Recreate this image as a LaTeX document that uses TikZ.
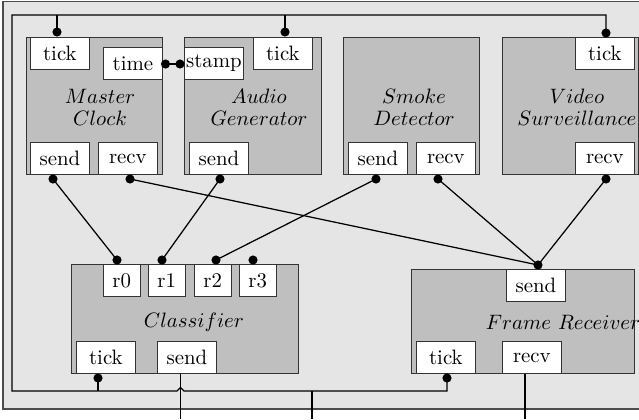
\documentclass[tikz,border=0pt]{standalone}
\usepackage{tikz}
\usetikzlibrary{calc}

\begin{document}
\begin{tikzpicture}[x=0.48pt, y=-0.48pt,
    block/.style={draw=black!80, fill=gray!50, inner sep=0pt, anchor=north west},
    port/.style={draw=black!80, fill=white, inner sep=0pt, minimum width=28.3pt, minimum height=15.4pt, anchor=north west},
    rport/.style={port, minimum width=17.6pt},
    lbl/.style={align=center, inner sep=0pt},
    dot/.style={circle, fill=black, inner sep=0pt, minimum size=4.4pt},
    wire/.style={line width=0.6pt},
]
\useasboundingbox (0,0) rectangle (639,419);
\clip (0,0) rectangle (639,419);

% --- Outer frame ---
\draw[draw=black!70, line width=0.7pt, fill=gray!20] (3,1.5) rectangle (660,409);

% --- Top row blocks ---
\node[block, minimum width=65.3pt, minimum height=65.8pt] (mc) at (26,37) {};
\node[block, minimum width=65.8pt, minimum height=65.8pt] (ag) at (184,37) {};
\node[block, minimum width=65.3pt, minimum height=65.8pt] (sd) at (343,37) {};
\node[block, minimum width=65.3pt, minimum height=65.8pt] (vs) at (502,37) {};

% --- Bottom row blocks ---
\node[block, minimum width=109pt, minimum height=52.3pt] (cl) at (71,264) {};
\node[block, minimum width=107pt, minimum height=49.9pt] (fr) at (411,269) {};

% Block labels
\node[lbl] (mc-lbl) at (100,107) {$Master$\\[-1.5pt]$Clock$};
\node[lbl] (ag-lbl) at (259,107) {$Audio$\\[-1.5pt]$Generator$};
\node[lbl] (sd-lbl) at (414,107) {$Smoke$\\[-1.5pt]$Detector$};
\node[lbl] (vs-lbl) at (577,107) {$Video$\\[-1.5pt]$Surveillance$};
\node[lbl] (cl-lbl) at (194,322) {$Classifier$};
\node[lbl] (fr-lbl) at (563,322) {$Frame\ Receiver$};

% --- Ports ---
\node[port] (mc-tick) at (30,37) {tick};
\node[port] (mc-time) at (103,47) {time};
\node[port] (mc-send) at (30,142) {send};
\node[port] (mc-recv) at (98,142) {recv};

\node[port] (ag-stamp) at (184,47) {stamp};
\node[port] (ag-tick) at (253,37) {tick};
\node[port] (ag-send) at (189,142) {send};

\node[port] (sd-send) at (348,142) {send};
\node[port] (sd-recv) at (416,142) {recv};

\node[port] (vs-tick) at (575,37) {tick};
\node[port] (vs-recv) at (575,142) {recv};

\node[rport] (cl-r0) at (103,264) {r0};
\node[rport] (cl-r1) at (148,264) {r1};
\node[rport] (cl-r2) at (194,264) {r2};
\node[rport] (cl-r3) at (239,264) {r3};
\node[port] (cl-tick) at (76,341) {tick};
\node[port] (cl-send) at (157,341) {send};

\node[port] (fr-send) at (506,269) {send};
\node[port] (fr-tick) at (416,341) {tick};
\node[port] (fr-recv) at (502,341) {recv};

% --- Port dots ---
\node[dot] (mc-tick-d) at (57,32) {};
\node[dot] (ag-tick-d) at (285,32) {};
\node[dot] (vs-tick-d) at (606,33) {};
\node[dot] (mc-time-d) at (165.5,64) {};
\node[dot] (ag-stamp-d) at (180,64) {};
\node[dot] (mc-send-d) at (53,179) {};
\node[dot] (mc-recv-d) at (130,179) {};
\node[dot] (ag-send-d) at (220,179) {};
\node[dot] (sd-send-d) at (376,179) {};
\node[dot] (sd-recv-d) at (438,179) {};
\node[dot] (vs-recv-d) at (606,179) {};
\node[dot] (cl-r0-d) at (117,260) {};
\node[dot] (cl-r1-d) at (162,260) {};
\node[dot] (cl-r2-d) at (216,260) {};
\node[dot] (cl-r3-d) at (253,260) {};
\node[dot] (cl-tick-d) at (98,378) {};
\node[dot] (fr-tick-d) at (447,378) {};
\node[dot] (fr-send-d) at (538,265) {};

% --- Connections ---
\draw[wire] (mc-time-d.center) -- (ag-stamp-d.center);
\draw[wire] (mc-send-d.center) -- (cl-r0-d.center);
\draw[wire] (ag-send-d.center) -- (cl-r1-d.center);
\draw[wire] (sd-send-d.center) -- (cl-r2-d.center);
\draw[wire] (mc-recv-d.center) -- (fr-send-d.center);
\draw[wire] (sd-recv-d.center) -- (fr-send-d.center);
\draw[wire] (vs-recv-d.center) -- (fr-send-d.center);

% --- Tick loop ---
\coordinate (loop-tl) at (12,15);
\coordinate (loop-bl) at (12,391);
\coordinate (hop) at (180.5,391);
\draw[wire] (fr-tick-d.center) |- ($(hop)+(3.5,0)$) -- ($(hop)+(0,-3.5)$) -- ($(hop)+(-3.5,0)$)
    -- (loop-bl) -- (loop-tl) -| (vs-tick-d.center);
\draw[wire] (mc-tick-d.center) -- (mc-tick-d.center |- loop-tl);
\draw[wire] (ag-tick-d.center) -- (ag-tick-d.center |- loop-tl);
\draw[wire] (cl-tick-d.center) -- (cl-tick-d.center |- loop-bl);

% Lines leaving the frame
\coordinate (tick-out) at (312,419);
\coordinate (send-out) at (180.5,419);
\coordinate (recv-out) at (525,419);
\draw[wire] (tick-out |- loop-bl) -- (tick-out);
\draw[wire] (send-out |- cl-send.south) -- (send-out);
\draw[wire] (recv-out |- fr-recv.south) -- (recv-out);

\end{tikzpicture}
\end{document}
